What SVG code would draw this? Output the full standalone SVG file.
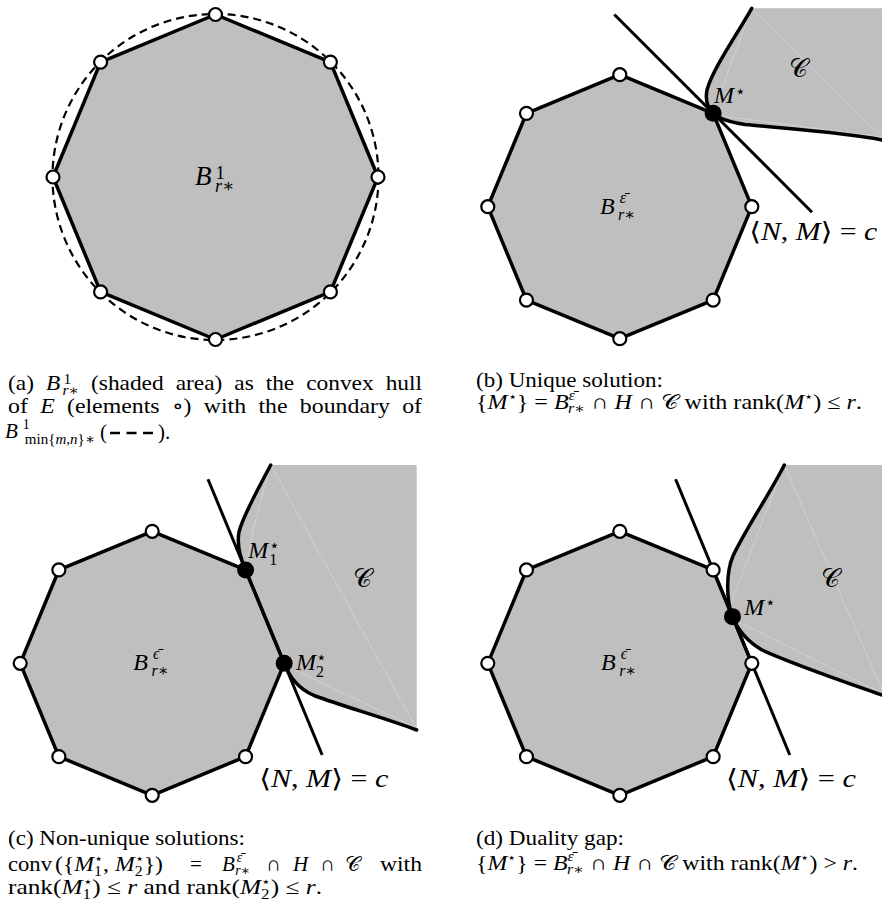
<svg xmlns="http://www.w3.org/2000/svg" width="882" height="904" viewBox="0 0 882 904">
<style>
.reg{fill:#bfbfbf;stroke:none}
.ball{fill:#bfbfbf;stroke:#000;stroke-width:3.5;stroke-linejoin:round}
.bd{fill:none;stroke:#000;stroke-width:3.5;stroke-linecap:round}
.ln{stroke:#000;stroke-width:3;fill:none}
.seam{stroke:#d6d6d6;stroke-width:0.8;fill:none}
.ow{fill:#fff;stroke:#000;stroke-width:2.2}
.dot{fill:#000}
.dash{fill:none;stroke:#000;stroke-width:2.2;stroke-dasharray:8,5}
text{font-family:"Liberation Serif","DejaVu Serif",serif;fill:#000}
.it{font-style:italic}
.up{font-style:normal}
.lb{font-size:24px}
.hl{font-size:25.5px}
.cap{font-size:21px}
</style>
<defs>
<circle id="ov" r="6.5" class="ow"/>
</defs>

<!-- Panel (a) -->
<g id="panel-a">
  <g id="a-ball">
    <polygon class="ball" points="378,177 330.4,62.1 215.5,14.5 100.6,62.1 53,177 100.6,291.9 215.5,339.5 330.4,291.9"/>
    <circle class="dash" cx="215.5" cy="177" r="163"/>
  </g>
  <g id="a-points">
    <use href="#ov" x="378" y="177"/><use href="#ov" x="330.4" y="62.1"/><use href="#ov" x="215.5" y="14.5"/><use href="#ov" x="100.6" y="62.1"/>
    <use href="#ov" x="53" y="177"/><use href="#ov" x="100.6" y="291.9"/><use href="#ov" x="215.5" y="339.5"/><use href="#ov" x="330.4" y="291.9"/>
  </g>
  <g id="a-label">
    <text x="195" y="185" font-size="27" class="it">B<tspan font-size="19" class="up" dx="4" dy="-6">1</tspan><tspan font-size="18" dx="-10" dy="13">r</tspan><tspan font-size="18" class="up">∗</tspan></text>
  </g>
</g>

<!-- Panel (b) -->
<g id="panel-b">
  <g id="b-C">
    <path class="reg" d="M751.7,8.3 C738,33 712,70 707,90 C705,100 708,108 713.14,113.36 C718.5,118.7 728,122 745,124.5 C785,128.5 850,133 882,140 L882,8.3 Z"/>
    <path class="seam" d="M751.7,8.3 L882,137 M751.7,8.3 L722,88 L714,113 M722,116 L882,137"/>
    <path class="bd" d="M751.7,8.3 C738,33 712,70 707,90 C705,100 708,108 713.14,113.36 C718.5,118.7 728,122 745,124.5 C785,128.5 850,133 882,140"/>
    <text x="789" y="77" font-size="26">𝒞</text>
  </g>
  <g id="b-ball">
    <polygon class="ball" points="751.8,206.7 713.14,113.36 619.8,74.7 526.46,113.36 487.8,206.7 526.46,300.04 619.8,338.7 713.14,300.04"/>
    <text x="600" y="214" font-size="24" class="it">B<tspan font-size="16" dx="5" dy="-11">ε̄</tspan><tspan font-size="16" dx="-8" dy="17">r</tspan><tspan font-size="16" class="up">∗</tspan></text>
  </g>
  <g id="b-H">
    <line class="ln" x1="614.3" y1="14.5" x2="812" y2="212.2"/>
    <text x="749.3" y="240" class="hl" textLength="128" lengthAdjust="spacingAndGlyphs">⟨<tspan class="it">N</tspan>, <tspan class="it">M</tspan>⟩ = <tspan class="it">c</tspan></text>
  </g>
  <g id="b-points">
    <use href="#ov" x="751.8" y="206.7"/><use href="#ov" x="619.8" y="74.7"/><use href="#ov" x="526.46" y="113.36"/><use href="#ov" x="487.8" y="206.7"/>
    <use href="#ov" x="526.46" y="300.04"/><use href="#ov" x="619.8" y="338.7"/><use href="#ov" x="713.14" y="300.04"/>
    <circle class="dot" cx="713.14" cy="113.36" r="8.5"/>
    <text x="714" y="103.3" class="lb it">M<tspan font-size="17" class="up" dx="1" dy="-6">⋆</tspan></text>
  </g>
</g>

<!-- Panel (c) -->
<g id="panel-c">
  <g id="c-C">
    <path class="reg" d="M270.7,465 C262,482 243,515 239,532 C236.5,545 240,557 245.54,569.96 L284.2,663.3 C289.5,676 297,688 314,695.5 C345,707 385,718 416.7,730 L416.7,465 Z"/>
    <path class="seam" d="M270.7,465 L253,530 L246,569 M270.7,465 L416.7,729 M295,670 L416.7,728"/>
    <path class="bd" d="M270.7,465 C262,482 243,515 239,532 C236.5,545 240,557 245.54,569.96"/>
    <path class="bd" d="M284.2,663.3 C289.5,676 297,688 314,695.5 C345,707 385,718 416.7,730"/>
    <text x="353" y="586.7" font-size="26">𝒞</text>
  </g>
  <g id="c-ball">
    <polygon class="ball" points="284.2,663.3 245.54,569.96 152.2,531.3 58.86,569.96 20.2,663.3 58.86,756.64 152.2,795.3 245.54,756.64"/>
    <text x="133.3" y="670" font-size="24" class="it">B<tspan font-size="16" dx="5" dy="-11">ϵ̄</tspan><tspan font-size="16" dx="-8" dy="17">r</tspan><tspan font-size="16" class="up">∗</tspan></text>
  </g>
  <g id="c-H">
    <line class="ln" x1="208" y1="479.3" x2="322.2" y2="755"/>
    <text x="259.3" y="786.7" class="hl" textLength="129" lengthAdjust="spacingAndGlyphs">⟨<tspan class="it">N</tspan>, <tspan class="it">M</tspan>⟩ = <tspan class="it">c</tspan></text>
  </g>
  <g id="c-points">
    <use href="#ov" x="152.2" y="531.3"/><use href="#ov" x="58.86" y="569.96"/><use href="#ov" x="20.2" y="663.3"/>
    <use href="#ov" x="58.86" y="756.64"/><use href="#ov" x="152.2" y="795.3"/><use href="#ov" x="245.54" y="756.64"/>
    <circle class="dot" cx="245.54" cy="569.96" r="8.5"/>
    <circle class="dot" cx="284.2" cy="663.3" r="8.5"/>
    <text x="248.3" y="558.3" class="lb it">M<tspan font-size="16" class="up" dx="1" dy="7">1</tspan><tspan font-size="17" class="up" dx="-8" dy="-14">⋆</tspan></text>
    <text x="296" y="670" class="lb it">M<tspan font-size="16" class="up" dx="0" dy="6.7">2</tspan><tspan font-size="17" class="up" dx="-8" dy="-14">⋆</tspan></text>
  </g>
</g>

<!-- Panel (d) -->
<g id="panel-d">
  <g id="d-C">
    <path class="reg" d="M784.3,465 C772,490 745,530 733,556 C726,572 726,600 732.47,616.63 C737,628 745,640 762,650 C795,665 845,682 882,695 L882,465 Z"/>
    <path class="seam" d="M784.3,465 L731,603 M784.3,465 L882,690 M737.7,621.7 L882,693"/>
    <path class="bd" d="M784.3,465 C772,490 745,530 733,556 C726,572 726,600 732.47,616.63 C737,628 745,640 762,650 C795,665 845,682 882,695"/>
    <text x="821" y="586.7" font-size="26">𝒞</text>
  </g>
  <g id="d-ball">
    <polygon class="ball" points="751.8,663.3 713.14,569.96 619.8,531.3 526.46,569.96 487.8,663.3 526.46,756.64 619.8,795.3 713.14,756.64"/>
    <text x="601" y="670" font-size="24" class="it">B<tspan font-size="16" dx="5" dy="-11">ϵ̄</tspan><tspan font-size="16" dx="-8" dy="17">r</tspan><tspan font-size="16" class="up">∗</tspan></text>
  </g>
  <g id="d-H">
    <line class="ln" x1="675.6" y1="479.3" x2="789.8" y2="755"/>
    <text x="726" y="786.7" class="hl" textLength="130" lengthAdjust="spacingAndGlyphs">⟨<tspan class="it">N</tspan>, <tspan class="it">M</tspan>⟩ = <tspan class="it">c</tspan></text>
  </g>
  <g id="d-points">
    <use href="#ov" x="751.8" y="663.3"/><use href="#ov" x="713.14" y="569.96"/><use href="#ov" x="619.8" y="531.3"/><use href="#ov" x="526.46" y="569.96"/>
    <use href="#ov" x="487.8" y="663.3"/><use href="#ov" x="526.46" y="756.64"/><use href="#ov" x="619.8" y="795.3"/><use href="#ov" x="713.14" y="756.64"/>
    <circle class="dot" cx="732.47" cy="616.63" r="8.5"/>
    <text x="744.3" y="615" class="lb it">M<tspan font-size="17" class="up" dx="1" dy="-7">⋆</tspan></text>
  </g>
</g>

<!-- Captions -->
<g id="caption-a" class="cap">
  <text x="8" y="390" textLength="414" lengthAdjust="spacingAndGlyphs" word-spacing="5.5">(a) <tspan class="it">B</tspan><tspan font-size="14" dx="3" dy="-6">1</tspan><tspan font-size="14" class="it" dx="-8" dy="11">r</tspan><tspan font-size="14">∗</tspan><tspan dy="-5"> (shaded area) as the convex hull</tspan></text>
  <text x="8" y="413.3" textLength="414" lengthAdjust="spacingAndGlyphs" word-spacing="5.6">of <tspan class="it">E</tspan> (elements ∘) with the boundary of</text>
  <text x="5" y="438"><tspan class="it">B</tspan><tspan font-size="14" dx="5" dy="-9">1</tspan><tspan font-size="15" dx="-5" dy="15">min{<tspan class="it">m</tspan>,<tspan class="it">n</tspan>}∗</tspan></text>
  <text x="100" y="439">(</text>
  <line class="dash" x1="110" y1="433" x2="153" y2="433" style="stroke-width:2.6;stroke-dasharray:10,6.5"/>
  <text x="158" y="439">).</text>
</g>

<g id="caption-b" class="cap">
  <text x="476" y="386.7" textLength="187" lengthAdjust="spacingAndGlyphs">(b) Unique solution:</text>
  <text x="476" y="409.3" textLength="386" lengthAdjust="spacingAndGlyphs">{<tspan class="it">M</tspan><tspan font-size="13" dy="-8">⋆</tspan><tspan dy="8">} = </tspan><tspan class="it">B</tspan><tspan font-size="14" dy="-9" class="it">ε̄</tspan><tspan font-size="14" dx="-6" dy="13" class="it">r</tspan><tspan font-size="14">∗</tspan><tspan dy="-4"> ∩ </tspan><tspan class="it">H</tspan> ∩ 𝒞 with rank(<tspan class="it">M</tspan><tspan font-size="13" dy="-8">⋆</tspan><tspan dy="8">) ≤ </tspan><tspan class="it">r</tspan>.</text>
</g>

<g id="caption-c" class="cap">
  <text x="8" y="845" textLength="237" lengthAdjust="spacingAndGlyphs">(c) Non-unique solutions:</text>
  <text x="8" y="871" textLength="44" lengthAdjust="spacingAndGlyphs">conv</text>
  <text x="55" y="871" textLength="108" lengthAdjust="spacingAndGlyphs">({<tspan class="it">M</tspan><tspan font-size="14" dy="5">1</tspan><tspan font-size="13" dx="-7" dy="-13">⋆</tspan><tspan dy="8">, </tspan><tspan class="it">M</tspan><tspan font-size="14" dy="5">2</tspan><tspan font-size="13" dx="-7" dy="-13">⋆</tspan><tspan dy="8">})</tspan></text>
  <text x="190" y="871">=</text>
  <text x="222" y="871"><tspan class="it">B</tspan><tspan font-size="14" class="it" dx="2" dy="-9">ε̄</tspan><tspan font-size="14" class="it" dx="-7" dy="13">r</tspan><tspan font-size="14">∗</tspan></text>
  <text x="266" y="871">∩</text>
  <text x="293" y="871" class="it">H</text>
  <text x="320" y="871">∩</text>
  <text x="345" y="871">𝒞</text>
  <text x="380" y="871" textLength="42" lengthAdjust="spacingAndGlyphs">with</text>
  <text x="8" y="894" textLength="314" lengthAdjust="spacingAndGlyphs">rank(<tspan class="it">M</tspan><tspan font-size="14" dy="5">1</tspan><tspan font-size="13" dx="-7" dy="-13">⋆</tspan><tspan dy="8">) ≤ </tspan><tspan class="it">r</tspan> and rank(<tspan class="it">M</tspan><tspan font-size="14" dy="5">2</tspan><tspan font-size="13" dx="-7" dy="-13">⋆</tspan><tspan dy="8">) ≤ </tspan><tspan class="it">r</tspan>.</text>
</g>

<g id="caption-d" class="cap">
  <text x="476" y="845" textLength="148" lengthAdjust="spacingAndGlyphs">(d) Duality gap:</text>
  <text x="476" y="870" textLength="382" lengthAdjust="spacingAndGlyphs">{<tspan class="it">M</tspan><tspan font-size="13" dy="-8">⋆</tspan><tspan dy="8">} = </tspan><tspan class="it">B</tspan><tspan font-size="14" dy="-9" class="it">ε̄</tspan><tspan font-size="14" dx="-6" dy="13" class="it">r</tspan><tspan font-size="14">∗</tspan><tspan dy="-4"> ∩ </tspan><tspan class="it">H</tspan> ∩ 𝒞 with rank(<tspan class="it">M</tspan><tspan font-size="13" dy="-8">⋆</tspan><tspan dy="8">) &gt; </tspan><tspan class="it">r</tspan>.</text>
</g>
</svg>
